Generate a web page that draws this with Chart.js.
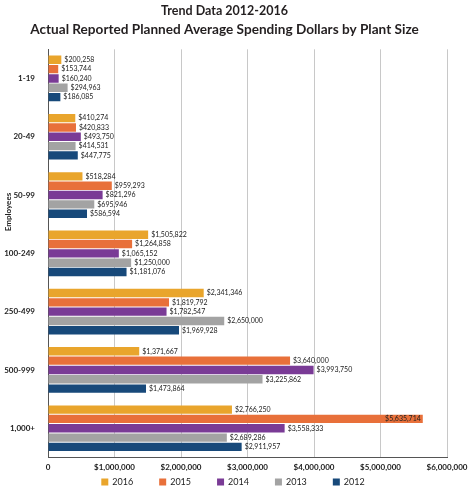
<!DOCTYPE html>
<html lang="en">
<head>
    <meta charset="UTF-8">
    <title>Trend Data 2012-2016</title>
    <script src="https://cdn.jsdelivr.net/npm/chart.js"></script>
    <style>
        body { margin: 0; background: #fff; }
    </style>
</head>
<body>
    <canvas id="spendChart" width="474" height="489"></canvas>

    <script>
        // categories and values
        const plantSizes = ['1-19', '20-49', '50-99', '100-249', '250-499', '500-999', '1,000+'];
        const years = ['2016', '2015', '2014', '2013', '2012'];
        const spend2016 = [200258, 410274, 518284, 1505822, 2341346, 1371667, 2766250];
        const spend2015 = [153744, 420833, 959293, 1264858, 1819792, 3640000, 5635714];
        const spend2014 = [160240, 493750, 821296, 1065152, 1782547, 3993750, 3558333];
        const spend2013 = [294963, 414531, 695946, 1250000, 2650000, 3225862, 2689286];
        const spend2012 = [186085, 447775, 586594, 1181076, 1969928, 1473864, 2911957];
        const xTicks = [0, 1000000, 2000000, 3000000, 4000000, 5000000, 6000000];

        const colors = ['#e9a52c', '#e8703a', '#7a3b96', '#a3a3a3', '#17497a'];
        const series = [spend2016, spend2015, spend2014, spend2013, spend2012];

        const fontFamily = 'Lato, "Open Sans", sans-serif';
        const money = v => v === 0 ? '0' : '$' + v.toLocaleString('en-US');

        // value labels at the end of each bar
        const barLabels = {
            id: 'barLabels',
            afterDatasetsDraw(chart) {
                const ctx = chart.ctx;
                ctx.save();
                ctx.font = '7px ' + fontFamily;
                ctx.fillStyle = '#222';
                ctx.textBaseline = 'middle';
                chart.data.datasets.forEach((ds, i) => {
                    chart.getDatasetMeta(i).data.forEach((bar, j) => {
                        const v = ds.data[j];
                        if (v > 5500000) {
                            ctx.textAlign = 'right';
                            ctx.fillText(money(v), bar.x - 2, bar.y);
                        } else {
                            ctx.textAlign = 'left';
                            ctx.fillText(money(v), bar.x + 3, bar.y);
                        }
                    });
                });
                ctx.restore();
            }
        };

        // legend row and the "Employees" axis title, placed by hand
        const extras = {
            id: 'extras',
            afterDraw(chart) {
                const ctx = chart.ctx;
                ctx.save();
                ctx.font = 'bold 8px ' + fontFamily;
                ctx.fillStyle = '#222';
                ctx.textAlign = 'center';
                ctx.textBaseline = 'middle';
                ctx.translate(8, 212);
                ctx.rotate(-Math.PI / 2);
                ctx.fillText('Employees', 0, 0);
                ctx.restore();

                ctx.save();
                ctx.font = '9px ' + fontFamily;
                ctx.textBaseline = 'middle';
                ctx.textAlign = 'left';
                const box = 7, gap = 4, space = 26, y = 482;
                const items = chart.data.datasets.map(ds => ({
                    text: ds.label, color: ds.backgroundColor, w: box + gap + ctx.measureText(ds.label).width
                }));
                const total = items.reduce((s, it) => s + it.w, 0) + space * (items.length - 1);
                let x = 233 - total / 2;
                items.forEach(it => {
                    ctx.fillStyle = it.color;
                    ctx.fillRect(x, y - box / 2, box, box);
                    ctx.fillStyle = '#222';
                    ctx.fillText(it.text, x + box + gap, y);
                    x += it.w + space;
                });
                ctx.restore();
            }
        };

        const ctx = document.getElementById('spendChart').getContext('2d');
        const spendChart = new Chart(ctx, {
            type: 'bar',
            data: {
                labels: plantSizes,
                datasets: years.map((y, i) => ({
                    label: y,
                    data: series[i],
                    backgroundColor: colors[i],
                    categoryPercentage: 0.8,
                    barPercentage: 0.9
                }))
            },
            options: {
                indexAxis: 'y',
                responsive: false,
                animation: false,
                layout: { padding: { left: 2, right: 27, top: 3, bottom: 12 } },
                plugins: {
                    title: {
                        display: true,
                        text: 'Trend Data 2012-2016',
                        color: '#231f20',
                        font: { family: fontFamily, size: 12.5, weight: 'bold' },
                        padding: { top: 0, bottom: 3 }
                    },
                    subtitle: {
                        display: true,
                        text: 'Actual Reported Planned Average Spending Dollars by Plant Size',
                        color: '#231f20',
                        font: { family: fontFamily, size: 13.6, weight: 'bold' },
                        padding: { top: 0, bottom: 12 }
                    },
                    legend: { display: false },
                    tooltip: { enabled: false }
                },
                scales: {
                    x: {
                        min: 0,
                        max: 6000000,
                        afterBuildTicks: scale => { scale.ticks = xTicks.map(v => ({ value: v })); },
                        ticks: {
                            callback: v => money(v),
                            color: '#222',
                            padding: 5,
                            font: { family: fontFamily, size: 8, weight: 'bold' }
                        },
                        grid: { color: '#c8c8c8', drawTicks: false },
                        border: { color: '#555' }
                    },
                    y: {
                        afterFit: scale => { scale.width = 46; },
                        ticks: {
                            color: '#222',
                            padding: 5,
                            font: { family: fontFamily, size: 8, weight: 'bold' }
                        },
                        grid: { display: false },
                        border: { color: '#555' }
                    }
                }
            },
            plugins: [barLabels, extras]
        });
    </script>
</body>
</html>
